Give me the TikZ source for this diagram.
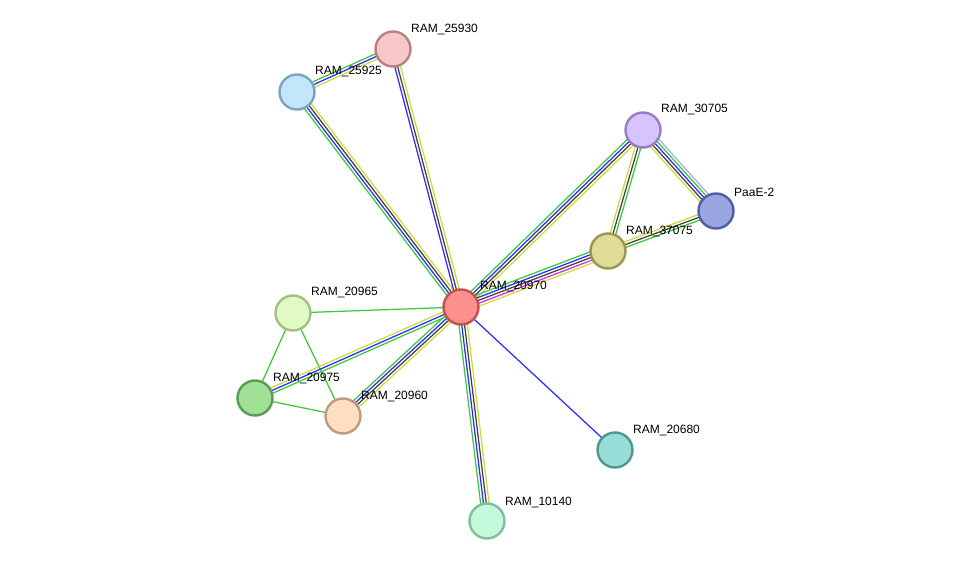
\documentclass[tikz,border=0pt]{standalone}
\usepackage{fontspec}
\setmainfont{Liberation Sans}
\usetikzlibrary{calc,backgrounds}
\definecolor{cgreen}{RGB}{60,200,60}
\definecolor{cblue}{RGB}{45,45,250}
\definecolor{cblack}{RGB}{65,65,65}
\definecolor{cyel}{RGB}{200,220,60}
\definecolor{cmag}{RGB}{220,45,220}
\definecolor{chom}{RGB}{170,170,250}
\tikzset{
  prot/.style = {draw, circle, line width=2.4pt, minimum size=35pt, inner sep=0pt},
  lbl/.style  = {anchor=west, inner sep=0pt, font=\fontsize{12}{14}\selectfont},
  ev/.style   = {line width=1.25pt},
}
% evidence link: from, to, number of lines, colours
\newcommand{\strlink}[4]{%
  \foreach \c [count=\i] in {#4}{
    \pgfmathsetmacro{\off}{((#3+1)/2-\i)*2.8}
    \draw[ev,\c] ($(#1.center)!\off pt!90:(#2.center)$) -- ($(#2.center)!\off pt!-90:(#1.center)$);}}

\begin{document}
\begin{tikzpicture}[x=1pt,y=-1pt]
\useasboundingbox (0,0) rectangle (975,567);
\node[prot,fill={rgb,255:red,255;green,142;blue,142},draw={rgb,255:red,192;green,82;blue,82}] (n20970) at (461,307) {};
\node[prot,fill={rgb,255:red,248;green,200;blue,200},draw={rgb,255:red,185;green,130;blue,130}] (n25930) at (393,49) {};
\node[prot,fill={rgb,255:red,195;green,230;blue,250},draw={rgb,255:red,120;green,165;blue,195}] (n25925) at (297,92) {};
\node[prot,fill={rgb,255:red,215;green,196;blue,255},draw={rgb,255:red,150;green,126;blue,196}] (n30705) at (643,130) {};
\node[prot,fill={rgb,255:red,155;green,165;blue,225},draw={rgb,255:red,80;green,95;blue,160}] (nPaaE) at (716,211) {};
\node[prot,fill={rgb,255:red,222;green,220;blue,150},draw={rgb,255:red,155;green,150;blue,80}] (n37075) at (608,251) {};
\node[prot,fill={rgb,255:red,225;green,250;blue,195},draw={rgb,255:red,165;green,190;blue,130}] (n20965) at (293,313) {};
\node[prot,fill={rgb,255:red,160;green,225;blue,150},draw={rgb,255:red,90;green,155;blue,85}] (n20975) at (255,398) {};
\node[prot,fill={rgb,255:red,255;green,222;blue,195},draw={rgb,255:red,190;green,155;blue,125}] (n20960) at (343,416) {};
\node[prot,fill={rgb,255:red,150;green,222;blue,215},draw={rgb,255:red,80;green,150;blue,145}] (n20680) at (615,450) {};
\node[prot,fill={rgb,255:red,195;green,250;blue,220},draw={rgb,255:red,130;green,190;blue,155}] (n10140) at (487,521) {};
% labels
\node[lbl] (l20970) at ($(n20970)+(19,-20)$) {RAM\_20970};
\node[lbl] (l25930) at ($(n25930)+(18,-19)$) {RAM\_25930};
\node[lbl] (l25925) at ($(n25925)+(18,-20)$) {RAM\_25925};
\node[lbl] (l30705) at ($(n30705)+(18,-20)$) {RAM\_30705};
\node[lbl] (lPaaE)  at ($(nPaaE)+(18,-19)$)  {PaaE-2};
\node[lbl] (l37075) at ($(n37075)+(18,-19)$) {RAM\_37075};
\node[lbl] (l20965) at ($(n20965)+(18,-20)$) {RAM\_20965};
\node[lbl] (l20975) at ($(n20975)+(18,-19)$) {RAM\_20975};
\node[lbl] (l20960) at ($(n20960)+(18,-19)$) {RAM\_20960};
\node[lbl] (l20680) at ($(n20680)+(18,-19)$) {RAM\_20680};
\node[lbl] (l10140) at ($(n10140)+(18,-19)$) {RAM\_10140};
\begin{scope}[on background layer]
\strlink{n25925}{n25930}{3}{cgreen,cblue,cyel}
\strlink{n20970}{n25925}{4}{cgreen,cblue,cblack,cyel}
\strlink{n20970}{n25930}{3}{cblue,cblack,cyel}
\strlink{n20970}{n30705}{4}{cgreen,cblue,cblack,cyel}
\strlink{n20970}{n37075}{5}{cgreen,cblue,cblack,cmag,cyel}
\strlink{n30705}{n37075}{3}{cgreen,cblack,cyel}
\strlink{n30705}{nPaaE}{5}{chom,cgreen,cblue,cblack,cyel}
\strlink{nPaaE}{n37075}{3}{cgreen,cblack,cyel}
\strlink{n20965}{n20970}{1}{cgreen}
\strlink{n20965}{n20975}{1}{cgreen}
\strlink{n20965}{n20960}{1}{cgreen}
\strlink{n20975}{n20960}{1}{cgreen}
\strlink{n20970}{n20975}{3}{cgreen,cblue,cyel}
\strlink{n20960}{n20970}{4}{cgreen,cblue,cblack,cyel}
\strlink{n20680}{n20970}{1}{cblue}
\strlink{n10140}{n20970}{4}{cgreen,cblue,cblack,cyel}
\end{scope}
\end{tikzpicture}
\end{document}
